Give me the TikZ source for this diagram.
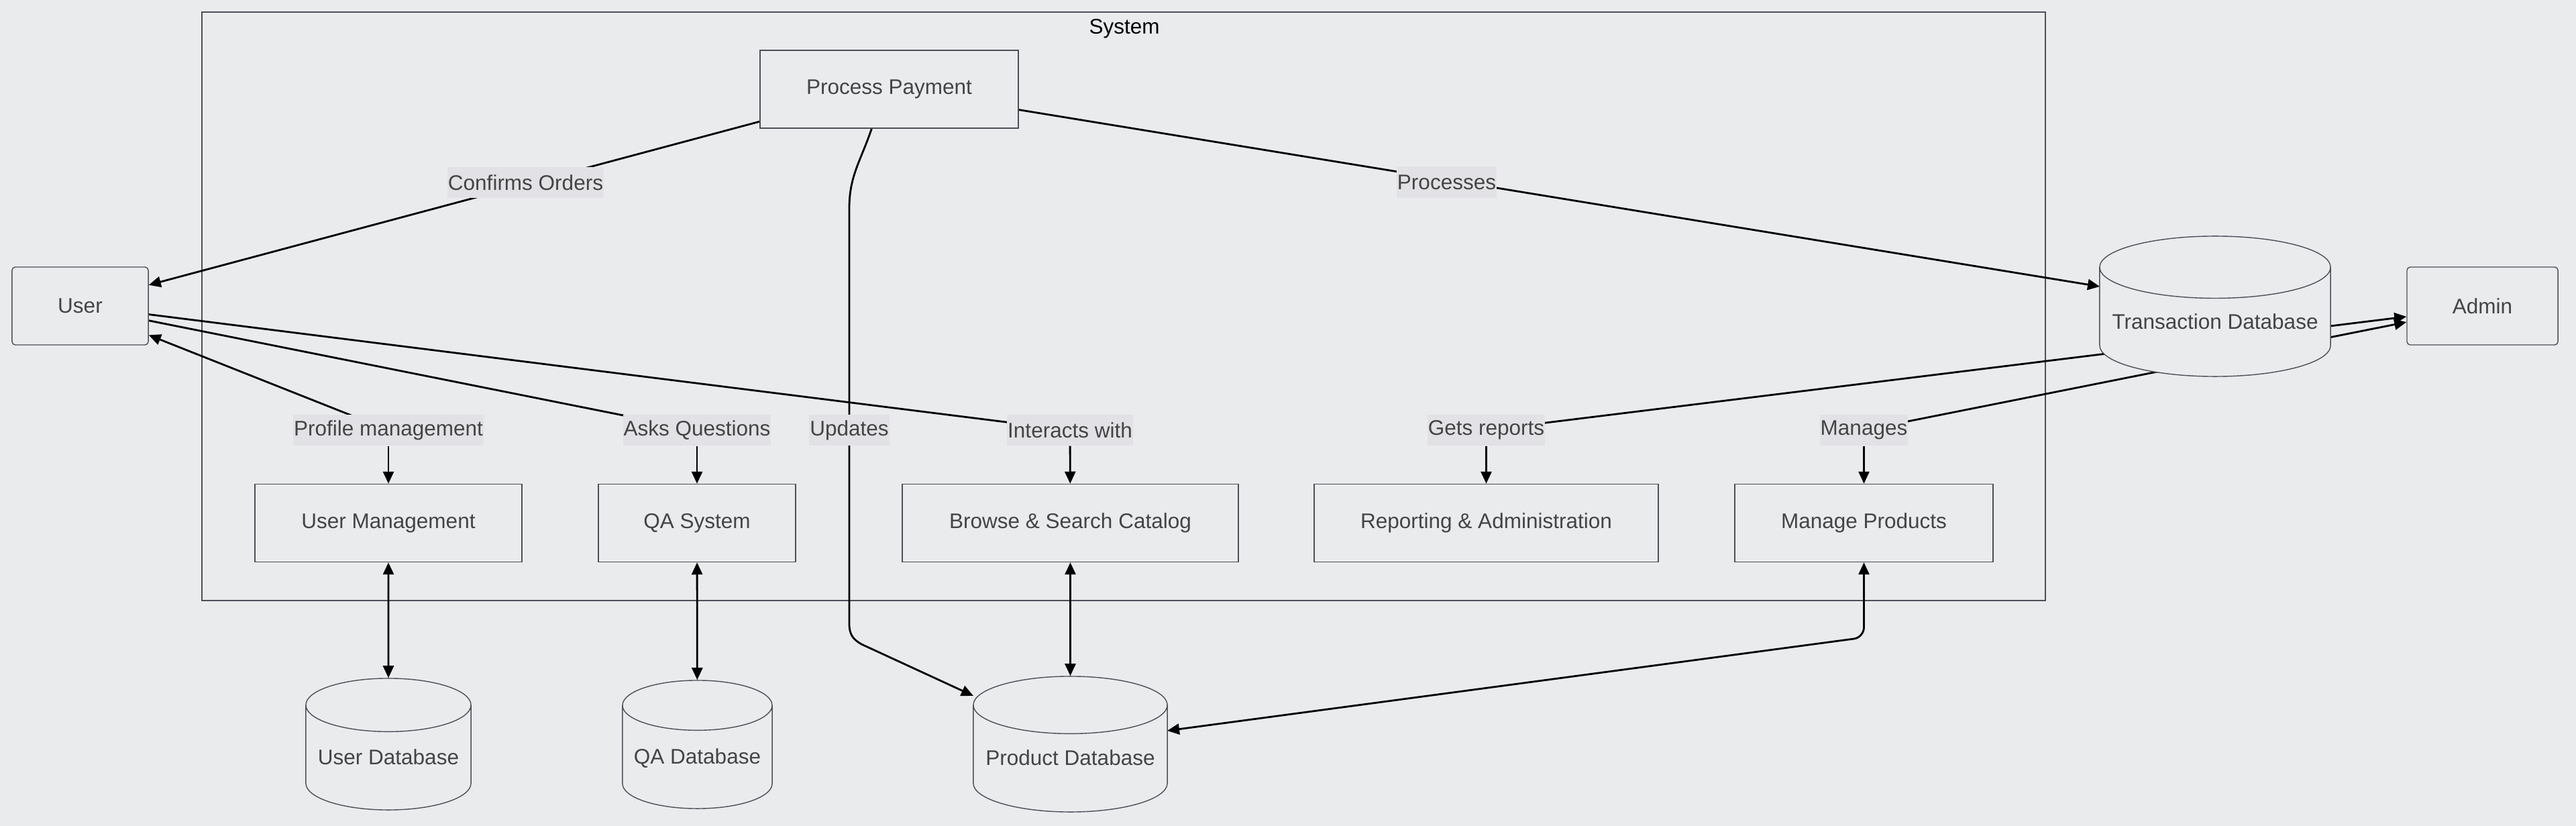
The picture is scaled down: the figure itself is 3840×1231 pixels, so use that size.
\documentclass[tikz,border=0pt]{standalone}
\usepackage{fontspec}
\setmainfont{Liberation Sans}
\usetikzlibrary{arrows.meta,shapes.geometric,calc}
\definecolor{bgcol}{HTML}{EAEBED}
\definecolor{lblcol}{HTML}{E2E2E6}
\definecolor{boxline}{HTML}{4E4E58}
\definecolor{txtcol}{HTML}{444444}
\definecolor{linkcol}{HTML}{000000}
\pgfdeclarelayer{back}
\pgfdeclarelayer{edges}
\pgfsetlayers{back,edges,main}

\begin{document}
\begin{tikzpicture}[x=0.01cm,y=-0.01cm,>={Triangle[length=0.18cm,width=0.16cm]},
  line width=0.7pt,font=\fontsize{8.96}{10.75}\selectfont,
  box/.style={rectangle,draw=boxline,fill=bgcol,text=txtcol,minimum height=1.16cm},
  actor/.style={box,rounded corners=0.05cm},
  db/.style={cylinder,shape border rotate=90,anchor=shape center,draw=boxline,fill=bgcol,text=txtcol,
    text height=7pt,text depth=6pt},
  lbl/.style={fill=lblcol,text=txtcol,inner xsep=0.01cm,inner ysep=0pt,minimum height=0.46cm},
  link/.style={draw=linkcol,line width=0.8pt}]

\begin{pgfonlayer}{back}
\fill[bgcol] (0,0) rectangle (3840,1231);
\end{pgfonlayer}

% outside actors
\node[actor,minimum width=2.03cm] (user) at (119.5,456) {User};
\node[actor,minimum width=2.25cm] (admin) at (3700.5,456) {Admin};

% the system
\node[text=black] (systitle) at (1676,43) {System};
\node[box,minimum width=3.85cm] (pay) at (1325.5,133) {Process Payment};
\node[box,minimum width=3.98cm] (umgmt) at (579,779.5) {User Management};
\node[box,minimum width=2.94cm] (qasys) at (1039,779.5) {QA System};
\node[box,minimum width=5.01cm] (browse) at (1595.5,779.5) {Browse \& Search Catalog};
\node[box,minimum width=5.13cm] (report) at (2215.5,779.5) {Reporting \& Administration};
\node[box,minimum width=3.85cm] (mprod) at (2778.5,779.5) {Manage Products};

% databases
\node[db,aspect=0.28,minimum width=3.44cm,minimum height=2.09cm] (tdb) at (3302,456.5) {Transaction Database};
\node[db,aspect=0.34,minimum width=2.46cm,minimum height=1.96cm] (udb) at (579,1109) {User Database};
\node[db,aspect=0.35,minimum width=2.23cm,minimum height=1.91cm] (qadb) at (1039.5,1109.5) {QA Database};
\node[db,aspect=0.31,minimum width=2.89cm,minimum height=2.02cm] (pdb) at (1595.5,1109) {Product Database};

% edge labels
\node[lbl] (lconfirm) at (783.5,272) {Confirms Orders};
\node[lbl] (lprocess) at (2156.5,271.5) {Processes};
\node[lbl] (lprofile) at (579,641) {Profile management};
\node[lbl] (lasks) at (1039,641) {Asks Questions};
\node[lbl] (lupdates) at (1266,641) {Updates};
\node[lbl] (linteract) at (1595,641) {Interacts with};
\node[lbl] (lreports) at (2215.5,641) {Gets reports};
\node[lbl] (lmanages) at (2778.5,641) {Manages};

\begin{pgfonlayer}{edges}
\draw[boxline] (301,18) rectangle (3049,895);

\draw[link,->] (pay.194) -- (user.17);
\draw[link,->] (pay.-9) -- ($(tdb.shape center)+(-172,-29.5)$);
\draw[link,<-] (user.-23) -- (lprofile.center);
\draw[link] (user.-12) -- (lasks.center);
\draw[link] (user.-7) -- (linteract.center);
\draw[link,<-] (admin.188) -- (lreports.center);
\draw[link,<-] (admin.192) -- (lmanages.center);
\draw[link,->] (pay.246) .. controls (1283,240) and (1266,262) .. (1266,310)
  -- (1266,930) .. controls (1266,946) and (1272,953) .. (1284,960)
  -- ($(pdb.shape center)+(-144.5,-72)$);
\draw[link,<->,rounded corners=0.15cm] (mprod.south) -- (2778.5,950)
  -- ($(pdb.shape center)+(144.5,-20)$);

\path[link]
 (lprofile) edge[->] (umgmt)
 (lasks) edge[->] (qasys)
 (linteract) edge[->] (browse)
 (lreports) edge[->] (report)
 (lmanages) edge[->] (mprod)
 (umgmt) edge[<->] (udb)
 (qasys) edge[<->] (qadb)
 (browse) edge[<->] (pdb);
\end{pgfonlayer}

\end{tikzpicture}
\end{document}
